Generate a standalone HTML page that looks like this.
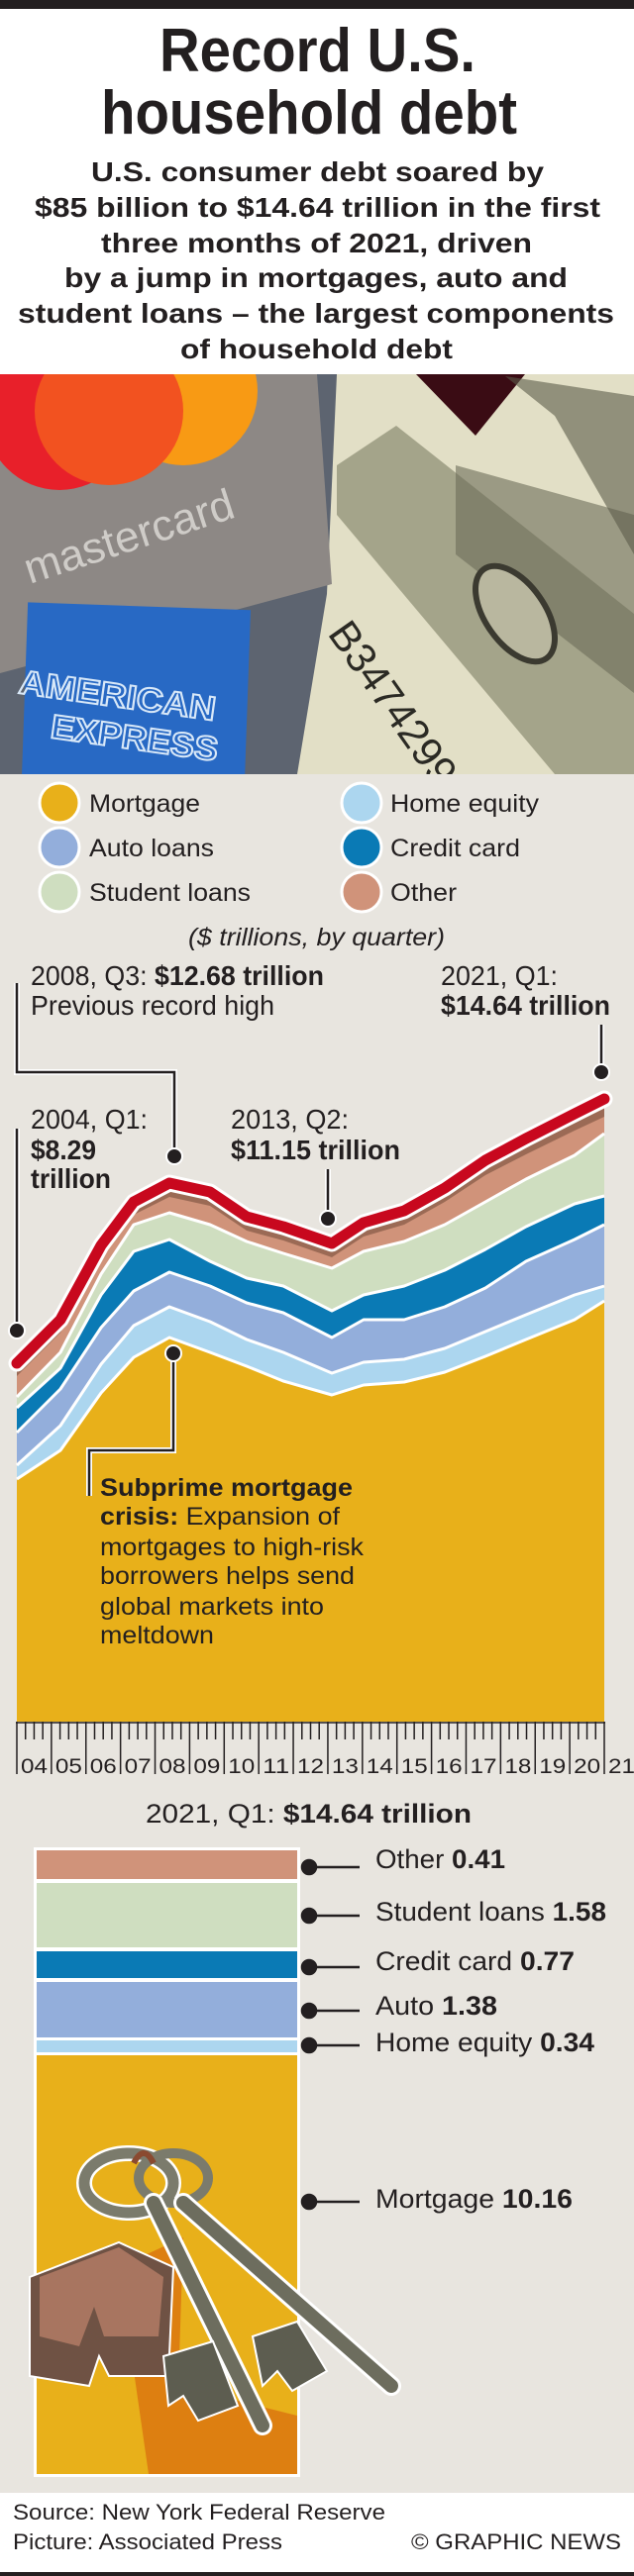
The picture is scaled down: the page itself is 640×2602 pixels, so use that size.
<!DOCTYPE html>
<html><head><meta charset="utf-8"><style>
html,body{margin:0;padding:0;background:#e8e5df;}
svg{display:block;}
text{font-family:"Liberation Sans",Arial,sans-serif;fill:#231f20;}
</style></head><body>
<svg width="640" height="2602" viewBox="0 0 640 2602" xmlns="http://www.w3.org/2000/svg">
<defs>
<clipPath id="ph"><rect x="0" y="378" width="640" height="404"/></clipPath>
</defs>
<rect x="0" y="0" width="640" height="2602" fill="#e8e5df"/>
<!-- header -->
<rect x="0" y="0" width="640" height="9" fill="#231f20"/>
<rect x="0" y="9" width="640" height="369" fill="#ffffff"/>
<g font-weight="bold">
<text x="161" y="72" font-size="62" textLength="319" lengthAdjust="spacingAndGlyphs">Record U.S.</text>
<text x="102" y="135" font-size="62" textLength="420" lengthAdjust="spacingAndGlyphs">household debt</text>
<g font-size="28">
<text x="92" y="183" textLength="457" lengthAdjust="spacingAndGlyphs">U.S. consumer debt soared by</text>
<text x="35" y="219" textLength="571" lengthAdjust="spacingAndGlyphs">$85 billion to $14.64 trillion in the first</text>
<text x="102" y="255" textLength="435" lengthAdjust="spacingAndGlyphs">three months of 2021, driven</text>
<text x="65" y="290" textLength="508" lengthAdjust="spacingAndGlyphs">by a jump in mortgages, auto and</text>
<text x="18" y="326" textLength="602" lengthAdjust="spacingAndGlyphs">student loans – the largest components</text>
<text x="182" y="362" textLength="275" lengthAdjust="spacingAndGlyphs">of household debt</text>
</g></g>
<!-- photo -->
<g clip-path="url(#ph)">
<rect x="0" y="378" width="640" height="404" fill="#e2dfc6"/>
<polygon points="0,378 340,378 330,600 300,782 0,782" fill="#5d6470"/>
<polygon points="0,378 320,378 335,590 0,680" fill="#8d8885"/>
<circle cx="60" cy="420" r="75" fill="#e8202a"/>
<circle cx="185" cy="395" r="75" fill="#f89a14"/>
<path d="M110,340 A75,75 0 0 1 110,490 A75,75 0 0 1 110,340" fill="#f25220"/>
<text x="30" y="590" font-size="44" transform="rotate(-18 30 590)" style="fill:#cfccc8">mastercard</text>
<rect x="25" y="612" width="225" height="180" fill="#2869c4" transform="rotate(2 130 700)"/>
<text x="18" y="700" font-size="34" font-weight="bold" style="fill:none;stroke:#d8e8f8;stroke-width:2" transform="rotate(8 18 700)" textLength="200" lengthAdjust="spacingAndGlyphs">AMERICAN</text>
<text x="50" y="745" font-size="34" font-weight="bold" style="fill:none;stroke:#d8e8f8;stroke-width:2" transform="rotate(8 50 745)" textLength="170" lengthAdjust="spacingAndGlyphs">EXPRESS</text>
<polygon points="420,378 530,378 480,440" fill="#3a0c14"/>
<polygon points="340,470 400,430 640,620 640,782 560,782 340,520" fill="#8a8a70" opacity="0.7"/>
<polygon points="460,470 640,520 640,700 460,560" fill="#6d6c58" opacity="0.6"/>
<polygon points="510,380 640,400 640,560 560,420" fill="#5c5b4a" opacity="0.6"/>
<ellipse cx="520" cy="620" rx="30" ry="55" fill="#b9b79f" stroke="#3b3a30" stroke-width="6" transform="rotate(-35 520 620)"/>
<text x="330" y="640" font-size="42" style="fill:#2b2a24" transform="rotate(55 330 640)">B34742990</text>
</g>
<!-- legend -->
<g stroke="#fff" stroke-width="3">
<circle cx="60" cy="811" r="20" fill="#e8b01a"/>
<circle cx="60" cy="856" r="20" fill="#93aedb"/>
<circle cx="60" cy="901" r="20" fill="#cfdec0"/>
<circle cx="365" cy="811" r="20" fill="#acd6ef"/>
<circle cx="365" cy="856" r="20" fill="#0a7ab5"/>
<circle cx="365" cy="901" r="20" fill="#d0937a"/>
</g>
<g font-size="25">
<text x="90" y="820" textLength="112" lengthAdjust="spacingAndGlyphs">Mortgage</text>
<text x="90" y="865" textLength="126" lengthAdjust="spacingAndGlyphs">Auto loans</text>
<text x="90" y="910" textLength="163" lengthAdjust="spacingAndGlyphs">Student loans</text>
<text x="394" y="820" textLength="150" lengthAdjust="spacingAndGlyphs">Home equity</text>
<text x="394" y="865" textLength="131" lengthAdjust="spacingAndGlyphs">Credit card</text>
<text x="394" y="910" textLength="67" lengthAdjust="spacingAndGlyphs">Other</text>
<text x="190" y="955" font-size="25" font-style="italic" textLength="259" lengthAdjust="spacingAndGlyphs">($ trillions, by quarter)</text>
</g>
<!-- chart areas -->
<g>
<polygon fill="#9b6a55" points="17,1377 61,1333 102,1258 135,1214 171,1195 212,1204 249,1229 286,1239 335,1256 367,1235 408,1223 449,1200 490,1172 531,1150 580,1125 610,1110 610,1739 17,1739"/>
<polygon fill="#d0937a" points="17,1390 61,1346 102,1271 135,1227 171,1209 212,1218 249,1243 286,1253 335,1270 367,1249 408,1237 449,1214 490,1187 531,1166 580,1142 610,1128 610,1739 17,1739"/>
<polygon fill="#cfdec0" points="17,1411 61,1366 102,1287 135,1237 171,1225 212,1237 249,1254 286,1266 335,1281 367,1264 408,1254 449,1237 490,1214 531,1191 580,1167 610,1145 610,1739 17,1739"/>
<polygon fill="#0a7ab5" points="17,1422 61,1382 102,1308 135,1264 171,1252 212,1274 249,1291 286,1299 335,1324 367,1308 408,1299 449,1283 490,1262 531,1239 580,1216 610,1208 610,1739 17,1739"/>
<polygon fill="#93aedb" points="17,1447 61,1403 102,1341 135,1304 171,1285 212,1299 249,1316 286,1326 335,1351 367,1333 408,1333 449,1320 490,1301 531,1274 580,1252 610,1237 610,1739 17,1739"/>
<polygon fill="#acd6ef" points="17,1480 61,1440 102,1378 135,1339 171,1320 212,1335 249,1353 286,1366 335,1387 367,1376 408,1373 449,1362 490,1345 531,1328 580,1308 610,1299 610,1739 17,1739"/>
<polygon fill="#e8b01a" points="17,1494 61,1465 102,1407 135,1371 171,1351 212,1366 249,1380 286,1395 335,1409 367,1399 408,1396 449,1386 490,1370 531,1353 580,1333 610,1314 610,1739 17,1739"/>
<g fill="none" stroke="#fff" stroke-width="3" stroke-linejoin="round">
<polyline points="17,1411 61,1366 102,1287 135,1237 171,1225 212,1237 249,1254 286,1266 335,1281 367,1264 408,1254 449,1237 490,1214 531,1191 580,1167 610,1145"/>
<polyline points="17,1422 61,1382 102,1308 135,1264 171,1252 212,1274 249,1291 286,1299 335,1324 367,1308 408,1299 449,1283 490,1262 531,1239 580,1216 610,1208"/>
<polyline points="17,1447 61,1403 102,1341 135,1304 171,1285 212,1299 249,1316 286,1326 335,1351 367,1333 408,1333 449,1320 490,1301 531,1274 580,1252 610,1237"/>
<polyline points="17,1480 61,1440 102,1378 135,1339 171,1320 212,1335 249,1353 286,1366 335,1387 367,1376 408,1373 449,1362 490,1345 531,1328 580,1308 610,1299"/>
<polyline points="17,1494 61,1465 102,1407 135,1371 171,1351 212,1366 249,1380 286,1395 335,1409 367,1399 408,1396 449,1386 490,1370 531,1353 580,1333 610,1314"/>
<polyline stroke-width="17" stroke-linecap="round" points="17,1377 61,1333 102,1258 135,1214 171,1195 212,1204 249,1229 286,1239 335,1256 367,1235 408,1223 449,1200 490,1172 531,1150 580,1125 610,1110"/>
<polyline stroke="#c8081e" stroke-width="11" stroke-linecap="round" points="17,1377 61,1333 102,1258 135,1214 171,1195 212,1204 249,1229 286,1239 335,1256 367,1235 408,1223 449,1200 490,1172 531,1150 580,1125 610,1110"/>
</g>
</g>
<!-- leaders -->
<g fill="none" stroke-width="6" stroke="#fff">
<polyline points="17,993 17,1083 176,1083 176,1168"/>
<polyline points="17,1140 17,1344"/>
<polyline points="331,1181 331,1231"/>
<polyline points="607,1035 607,1083"/>
<polyline points="175,1367 175,1465 90,1465 90,1511"/>
</g>
<g fill="none" stroke-width="2.5" stroke="#231f20">
<polyline points="17,993 17,1083 176,1083 176,1168"/>
<polyline points="17,1140 17,1344"/>
<polyline points="331,1181 331,1231"/>
<polyline points="607,1035 607,1083"/>
<polyline points="175,1367 175,1465 90,1465 90,1511"/>
</g>
<g fill="#231f20" stroke="#fff" stroke-width="2">
<circle cx="176" cy="1168" r="8"/><circle cx="17" cy="1344" r="8"/><circle cx="331" cy="1231" r="8"/><circle cx="607" cy="1083" r="8"/><circle cx="175" cy="1367" r="8"/>
</g>
<g font-size="28">
<text x="31" y="995" textLength="296" lengthAdjust="spacingAndGlyphs"><tspan>2008, Q3: </tspan><tspan font-weight="bold">$12.68 trillion</tspan></text>
<text x="31" y="1025" textLength="246" lengthAdjust="spacingAndGlyphs">Previous record high</text>
<text x="445" y="995" textLength="118" lengthAdjust="spacingAndGlyphs">2021, Q1:</text>
<text x="445" y="1025" font-weight="bold" textLength="171" lengthAdjust="spacingAndGlyphs">$14.64 trillion</text>
<text x="31" y="1140" textLength="118" lengthAdjust="spacingAndGlyphs">2004, Q1:</text>
<text x="31" y="1171" font-weight="bold" textLength="66" lengthAdjust="spacingAndGlyphs">$8.29</text>
<text x="31" y="1200" font-weight="bold" textLength="81" lengthAdjust="spacingAndGlyphs">trillion</text>
<text x="233" y="1140" textLength="119" lengthAdjust="spacingAndGlyphs">2013, Q2:</text>
<text x="233" y="1171" font-weight="bold" textLength="171" lengthAdjust="spacingAndGlyphs">$11.15 trillion</text>
</g>
<g font-size="25">
<text x="101" y="1511" font-weight="bold" textLength="255" lengthAdjust="spacingAndGlyphs">Subprime mortgage</text>
<text x="101" y="1540" textLength="242" lengthAdjust="spacingAndGlyphs"><tspan font-weight="bold">crisis:</tspan> Expansion of</text>
<text x="101" y="1571" textLength="266" lengthAdjust="spacingAndGlyphs">mortgages to high-risk</text>
<text x="101" y="1600" textLength="257" lengthAdjust="spacingAndGlyphs">borrowers helps send</text>
<text x="101" y="1631" textLength="226" lengthAdjust="spacingAndGlyphs">global markets into</text>
<text x="101" y="1660" textLength="115" lengthAdjust="spacingAndGlyphs">meltdown</text>
</g>
<!-- axis -->
<line x1="16" y1="1740" x2="611" y2="1740" stroke="#231f20" stroke-width="1.5"/>
<g id="ticks" stroke="#231f20" stroke-width="1.5"></g>
<g id="yrs" font-size="21"></g>
<script>
(function(){var ns="http://www.w3.org/2000/svg",t=document.getElementById("ticks"),y=document.getElementById("yrs");
var w=(610-17)/17;
for(var i=0;i<=68;i++){var x=17+i*w/4;var l=document.createElementNS(ns,"line");l.setAttribute("x1",x);l.setAttribute("x2",x);l.setAttribute("y1",1739);l.setAttribute("y2",i%4==0?1792:1757);t.appendChild(l);}
for(var k=0;k<18;k++){var s=document.createElementNS(ns,"text");s.setAttribute("x",17+k*w+4);s.setAttribute("y",1791);s.setAttribute("textLength","27");s.setAttribute("lengthAdjust","spacingAndGlyphs");var n=4+k;s.textContent=(n<10?"0":"")+n;y.appendChild(s);}
})();
</script>
<!-- bar -->
<text x="147" y="1841" font-size="27" textLength="329" lengthAdjust="spacingAndGlyphs"><tspan>2021, Q1: </tspan><tspan font-weight="bold">$14.64 trillion</tspan></text>
<rect x="34" y="1866" width="269" height="636" fill="#fff"/>
<rect x="37" y="1869" width="263" height="29" fill="#d0937a"/>
<rect x="37" y="1902" width="263" height="65" fill="#cfdec0"/>
<rect x="37" y="1971" width="263" height="27" fill="#0a7ab5"/>
<rect x="37" y="2002" width="263" height="56" fill="#93aedb"/>
<rect x="37" y="2061" width="263" height="12" fill="#acd6ef"/>
<rect x="37" y="2076" width="263" height="423" fill="#e8b01a"/>
<!-- keys -->
<g>
<polygon points="120,2290 185,2260 180,2410 300,2440 300,2499 150,2499" fill="#d9730f" opacity="0.8"/>
<polygon points="30,2300 120,2265 175,2290 170,2400 110,2400 100,2380 90,2410 30,2400" fill="#6f5244" stroke="#fff" stroke-width="2"/>
<polygon points="40,2300 120,2270 165,2300 160,2360 105,2360 95,2330 80,2370 40,2360" fill="#a87560"/>
<ellipse cx="130" cy="2205" rx="45" ry="30" fill="none" stroke="#fff" stroke-width="16"/>
<ellipse cx="130" cy="2205" rx="45" ry="30" fill="none" stroke="#7b7b6c" stroke-width="11"/>
<ellipse cx="175" cy="2200" rx="35" ry="25" fill="none" stroke="#7b7b6c" stroke-width="10"/>
<line x1="155" y1="2225" x2="265" y2="2450" stroke="#fff" stroke-width="20" stroke-linecap="round"/>
<line x1="155" y1="2225" x2="265" y2="2450" stroke="#6d6d5e" stroke-width="14" stroke-linecap="round"/>
<line x1="185" y1="2225" x2="395" y2="2410" stroke="#fff" stroke-width="20" stroke-linecap="round"/>
<line x1="185" y1="2225" x2="395" y2="2410" stroke="#6d6d5e" stroke-width="14" stroke-linecap="round"/>
<polygon points="165,2380 215,2365 240,2430 200,2445 185,2420 170,2430" fill="#5d5d50" stroke="#fff" stroke-width="2"/>
<polygon points="255,2360 300,2345 330,2395 295,2415 280,2395 265,2410" fill="#5d5d50" stroke="#fff" stroke-width="2"/>
<path d="M135,2185 q10,-20 20,0" fill="none" stroke="#8a4a30" stroke-width="6"/>
</g>
<g stroke="#231f20" stroke-width="2.5" fill="#231f20">
<line x1="312" y1="1886" x2="363" y2="1886"/><circle cx="312" cy="1886" r="7"/>
<line x1="312" y1="1935" x2="363" y2="1935"/><circle cx="312" cy="1935" r="7"/>
<line x1="312" y1="1987" x2="363" y2="1987"/><circle cx="312" cy="1987" r="7"/>
<line x1="312" y1="2031" x2="363" y2="2031"/><circle cx="312" cy="2031" r="7"/>
<line x1="312" y1="2066" x2="363" y2="2066"/><circle cx="312" cy="2066" r="7"/>
<line x1="312" y1="2224" x2="363" y2="2224"/><circle cx="312" cy="2224" r="7"/>
</g>
<g font-size="27">
<text x="379" y="1887" textLength="131" lengthAdjust="spacingAndGlyphs"><tspan>Other </tspan><tspan font-weight="bold">0.41</tspan></text>
<text x="379" y="1940" textLength="233" lengthAdjust="spacingAndGlyphs"><tspan>Student loans </tspan><tspan font-weight="bold">1.58</tspan></text>
<text x="379" y="1990" textLength="201" lengthAdjust="spacingAndGlyphs"><tspan>Credit card </tspan><tspan font-weight="bold">0.77</tspan></text>
<text x="379" y="2035" textLength="123" lengthAdjust="spacingAndGlyphs"><tspan>Auto </tspan><tspan font-weight="bold">1.38</tspan></text>
<text x="379" y="2072" textLength="221" lengthAdjust="spacingAndGlyphs"><tspan>Home equity </tspan><tspan font-weight="bold">0.34</tspan></text>
<text x="379" y="2230" textLength="199" lengthAdjust="spacingAndGlyphs"><tspan>Mortgage </tspan><tspan font-weight="bold">10.16</tspan></text>
</g>
<!-- footer -->
<rect x="0" y="2518" width="640" height="80" fill="#fff"/>
<rect x="0" y="2598" width="640" height="4" fill="#231f20"/>
<g font-size="22">
<text x="13" y="2545" textLength="376" lengthAdjust="spacingAndGlyphs">Source: New York Federal Reserve</text>
<text x="13" y="2575" textLength="272" lengthAdjust="spacingAndGlyphs">Picture: Associated Press</text>
<text x="415" y="2575" textLength="212" lengthAdjust="spacingAndGlyphs">© GRAPHIC NEWS</text>
</g>
</svg>
</body></html>
